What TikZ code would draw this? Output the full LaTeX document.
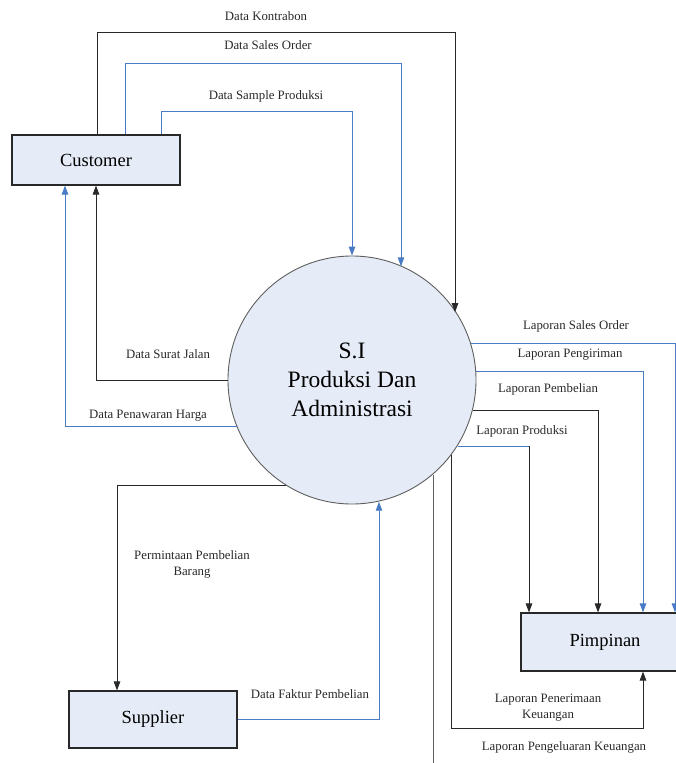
\documentclass[tikz,border=0pt]{standalone}
\usepackage{fontspec}
\setmainfont{Liberation Serif}
\usetikzlibrary{arrows.meta}
\definecolor{boxfill}{RGB}{230,236,247}
\definecolor{flowblue}{RGB}{74,124,198}
\definecolor{ink}{RGB}{40,40,40}

\begin{document}
\begin{tikzpicture}[x=1pt,y=-1pt,
  entity/.style={draw=ink, line width=1.1pt, fill=boxfill, rectangle, inner sep=0pt,
                 font=\fontsize{18.5}{22}\selectfont},
  process/.style={draw=ink!75, line width=0.9pt, fill=boxfill, circle, inner sep=0pt,
                  minimum size=248pt, align=center, font=\fontsize{23.5}{29}\selectfont},
  darkflow/.style={draw=ink, line width=0.9pt, -{Triangle[length=9pt,width=6.5pt]}},
  blueflow/.style={draw=flowblue, line width=0.9pt, -{Triangle[length=9pt,width=6.5pt]}},
  plainline/.style={draw=ink!75, line width=0.9pt},
  lbl/.style={font=\fontsize{12.8}{16}\selectfont, text=ink, inner sep=0pt, align=center}]

\useasboundingbox (0,0) rectangle (676,763);
\clip (0,0) rectangle (676,763);

% external entities and the process
\node[entity, minimum width=168pt, minimum height=50pt] (cust) at (96,160) {Customer};
\node[entity, minimum width=168pt, minimum height=57pt] (supp) at (153,719.5) {Supplier};
\node[entity, minimum width=168pt, minimum height=58pt] (pim) at (605,642) {Pimpinan};
\node[process] (sys) at (352,380) {S.I\\Produksi Dan\\Administrasi};

% bend points
\coordinate (kA) at (97,32);   \coordinate (kB) at (455,32);
\coordinate (kC) at (125,63);  \coordinate (kD) at (401,63);
\coordinate (kE) at (161,111); \coordinate (kF) at (352,111);
\coordinate (kH) at (65,428);
\coordinate (kI) at (117,486);
\coordinate (kJ) at (379,719);
\coordinate (kK) at (433,770);
\coordinate (kL) at (451,728); \coordinate (kM) at (643,728);
\coordinate (kN) at (529,444);
\coordinate (kO) at (598,409);
\coordinate (kP) at (643,371);
\coordinate (kQ) at (675,342);

% Customer -> system
\draw[darkflow] (kA |- cust.north) -- (kA) -- (kB) -- (kB |- sys.33.85);
\draw[blueflow] (kC |- cust.north) -- (kC) -- (kD) -- (kD |- sys.66.7);
\draw[blueflow] (kE |- cust.north) -- (kE) -- (kF) -- (sys.north);

% system -> Customer
\draw[darkflow] (sys.west) -- (sys.west -| cust.south) -- (cust.south);
\draw[blueflow] (sys.202.8) -- (kH |- sys.202.8) -- (kH |- cust.south);

% system <-> Supplier
\draw[darkflow] (sys.238.5) -- (kI |- sys.238.5) -- (kI |- supp.north);
\draw[blueflow] (supp.east) -- (kJ |- supp.east) -- (kJ |- sys.282.6);

% outgoing line at the bottom
\draw[plainline] (kK |- sys.310.8) -- (kK);

% system -> Pimpinan
\draw[darkflow] (kL |- sys.323) -- (kL) -- (kM) -- (kM |- pim.south);
\draw[draw=flowblue, line width=0.9pt] (sys.328.9) -- (kN |- sys.328.9);
\draw[darkflow] (kN |- sys.328.9) -- (kN |- pim.north);
\draw[darkflow] (sys.346.5) -- (kO |- sys.346.5) -- (kO |- pim.north);
\draw[blueflow] (sys.4.2) -- (kP |- sys.4.2) -- (kP |- pim.north);
\draw[blueflow] (sys.17.8) -- (kQ |- sys.17.8) -- (kQ |- pim.north);

% flow labels
\node[lbl] (lKontra) at (266,16)  {Data Kontrabon};
\node[lbl] (lSales)  at (268,45)  {Data Sales Order};
\node[lbl] (lSample) at (266,96)  {Data Sample Produksi};
\node[lbl] (lSurat)  at (168,354) {Data Surat Jalan};
\node[lbl] (lHarga)  at (148,416) {Data Penawaran Harga};
\node[lbl] (lMinta)  at (192,564) {Permintaan Pembelian\\Barang};
\node[lbl] (lFaktur) at (310,694) {Data Faktur Pembelian};
\node[lbl] (lLSO)    at (576,326) {Laporan Sales Order};
\node[lbl] (lKirim)  at (570,355) {Laporan Pengiriman};
\node[lbl] (lBeli)   at (548,389) {Laporan Pembelian};
\node[lbl] (lProd)   at (522,431) {Laporan Produksi};
\node[lbl] (lTerima) at (548,708) {Laporan Penerimaan\\Keuangan};
\node[lbl] (lKeluar) at (564,747) {Laporan Pengeluaran Keuangan};
\end{tikzpicture}
\end{document}
